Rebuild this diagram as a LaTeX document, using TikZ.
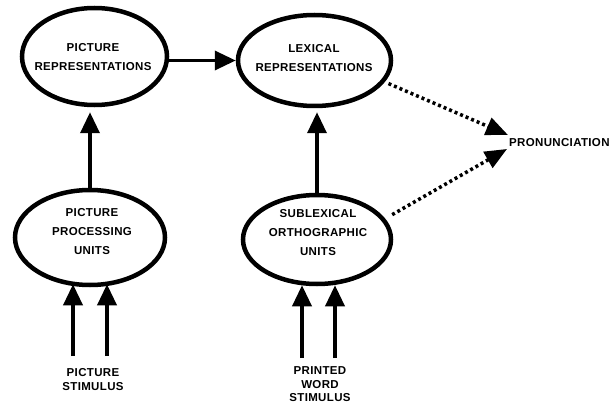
\documentclass[tikz,border=0pt]{standalone}
\usepackage{fontspec}
\setmainfont{Liberation Sans}[LetterSpace=3.0]
\usetikzlibrary{arrows.meta,shapes.geometric,calc}
\tikzset{
  oval/.style={ellipse, draw, line width=4.5pt, inner sep=0pt},
  lbl/.style={font=\fontsize{11.5}{19}\selectfont\bfseries, align=center, inner sep=0pt},
  stim/.style={font=\fontsize{11.5}{13.5}\selectfont\bfseries, align=center, inner sep=0pt},
  arr/.style={line width=3.5pt, -{Triangle[length=21pt,width=19pt]}},
  dotarr/.style={line width=3.5pt, dash pattern=on 3pt off 3pt, -{Triangle[length=22pt,width=18pt]}}
}
\begin{document}
\begin{tikzpicture}[x=1pt,y=-1pt]
\useasboundingbox (0,0) rectangle (614,404);
% ellipses
\node[oval, minimum width=145pt, minimum height=97pt] (pr) at (94.5,56.5) {};
\node[lbl] (prt) at (93,57.5) {PICTURE\\REPRESENTATIONS};
\node[oval, minimum width=153pt, minimum height=91pt] (lr) at (314.5,60.5) {};
\node[lbl] (lrt) at (314,58.5) {LEXICAL\\REPRESENTATIONS};
\node[oval, minimum width=150pt, minimum height=95pt] (ppu) at (90,237.5) {};
\node[lbl] (ppt) at (92,232) {PICTURE\\PROCESSING\\UNITS};
\node[oval, minimum width=148pt, minimum height=89pt] (sou) at (317,239.5) {};
\node[lbl] (sot) at (318,233) {SUBLEXICAL\\ORTHOGRAPHIC\\UNITS};
% other labels
\node[stim] (ps) at (93,379.5) {PICTURE\\STIMULUS};
\node[stim] (pw) at (320,384.5) {PRINTED\\WORD\\STIMULUS};
\node[lbl, anchor=west] (pron) at (509,143) {PRONUNCIATION};
% coordinates
\coordinate (a1) at (73,356);
\coordinate (a2) at (107,356);
\coordinate (b1) at (302,358);
\coordinate (b2) at (335,358);
\coordinate (t1) at ($(pron.west)+(-1,-8)$);
\coordinate (t2) at ($(pron.west)+(-2,6)$);
% connectors
\draw[arr] (pr.east |- lr.west) -- (lr.west);
\draw[arr, shorten >=5pt] (ppu.north) -- (ppu.north |- pr.south);
\draw[arr, shorten >=4pt] (sou.north) -- (sou.north |- lr.south);
\draw[arr, shorten >=-3pt] (a1) -- (a1 |- ppu.south);
\draw[arr, shorten >=-3pt] (a2) -- (a2 |- ppu.south);
\draw[arr, shorten >=-1pt] (b1) -- (b1 |- sou.south);
\draw[arr, shorten >=-1pt] (b2) -- (b2 |- sou.south);
\draw[dotarr, shorten <=4pt] (lr.-17) -- (t1);
\draw[dotarr, shorten <=8pt] (sou.17) -- (t2);
\end{tikzpicture}
\end{document}
